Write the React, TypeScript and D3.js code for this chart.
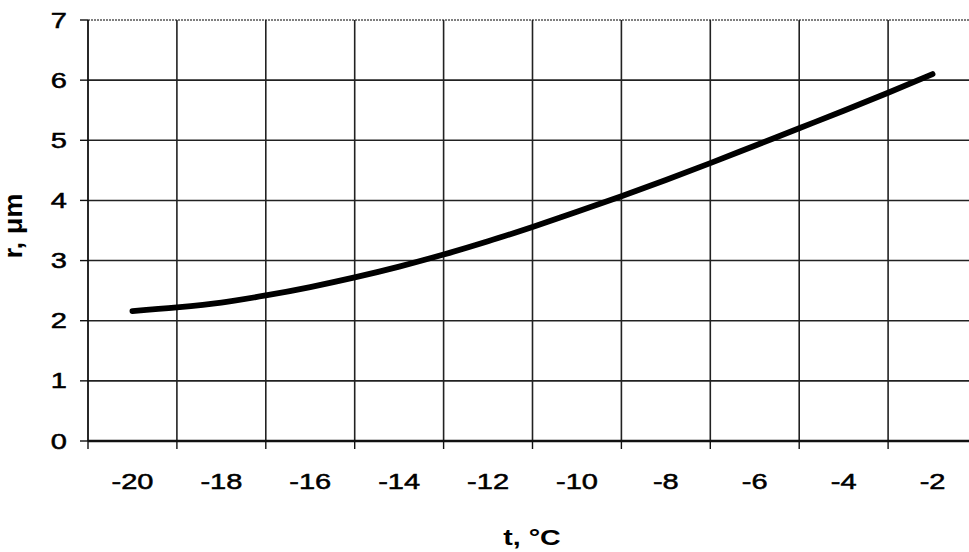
import React from "react";
import * as d3 from "d3";

const temps = [-20, -19, -18, -17, -16, -15, -14, -13, -12, -11, -10, -9, -8, -7, -6, -5, -4, -3, -2];
const radius = [2.16, 2.22, 2.3, 2.42, 2.56, 2.72, 2.9, 3.1, 3.32, 3.56, 3.81, 4.07, 4.34, 4.62, 4.91, 5.2, 5.49, 5.79, 6.1];
const xTickLabels = [-20, -18, -16, -14, -12, -10, -8, -6, -4, -2];
const yTicks = [0, 1, 2, 3, 4, 5, 6, 7];
const xGrid = [-21, -19, -17, -15, -13, -11, -9, -7, -5, -3, -1];

const W = 969;
const H = 552;
const left = 88;
const right = 977;
const top = 20;
const bottom = 441;
const SX = 1.35;

export default function App() {
  const x = d3.scaleLinear().domain([-21, -1]).range([left, right]);
  const y = d3.scaleLinear().domain([0, 7]).range([bottom, top]);
  const pts = temps.map((t, i) => [t, radius[i]] as [number, number]);
  const line = d3
    .line<[number, number]>()
    .x((d) => x(d[0]))
    .y((d) => y(d[1]))
    .curve(d3.curveMonotoneX);
  const font = "'Liberation Sans', Arial, sans-serif";
  return (
    <svg
      width={W}
      height={H}
      style={{ position: "absolute", left: 0, top: 0, background: "#fff" }}
      fontFamily={font}
    >
      <rect x={0} y={0} width={W} height={H} fill="#fff" />
      {yTicks.filter((v) => v > 0 && v < 7).map((v) => (
        <line key={"h" + v} x1={left} x2={right} y1={y(v)} y2={y(v)} stroke="#222" strokeWidth={1.6} />
      ))}
      <line x1={left} x2={right} y1={y(7)} y2={y(7)} stroke="#555" strokeWidth={1.6} strokeDasharray="2 1" />
      {xGrid.filter((v) => v > -21).map((v) => (
        <line key={"v" + v} x1={x(v)} x2={x(v)} y1={top} y2={bottom} stroke="#222" strokeWidth={1.6} />
      ))}
      <line x1={left} x2={left} y1={top} y2={bottom} stroke="#111" strokeWidth={1.8} />
      {yTicks.map((v) => (
        <g key={"yt" + v}>
          <line x1={left - 8} x2={left} y1={y(v)} y2={y(v)} stroke="#111" strokeWidth={1.4} />
          <text
            transform={`translate(67,${y(v) + 7.5}) scale(${SX},1)`}
            textAnchor="end"
            fontSize={21.5}
            fill="#000"
            stroke="#000"
            strokeWidth={0.5}
          >
            {v}
          </text>
        </g>
      ))}
      <line x1={left} x2={right} y1={bottom} y2={bottom} stroke="#111" strokeWidth={2.4} />
      {xGrid.map((v) => (
        <line key={"xt" + v} x1={x(v)} x2={x(v)} y1={bottom} y2={bottom + 8} stroke="#111" strokeWidth={1.4} />
      ))}
      {xTickLabels.map((v) => (
        <text
          key={"xl" + v}
          transform={`translate(${x(v)},489) scale(${SX},1)`}
          textAnchor="middle"
          fontSize={21.5}
          fill="#000"
          stroke="#000"
          strokeWidth={0.5}
        >
          {v}
        </text>
      ))}
      <path d={line(pts) || ""} fill="none" stroke="#000" strokeWidth={5.8} strokeLinecap="round" strokeLinejoin="round" />
      <text
        transform={`translate(532,545) scale(1.33,1)`}
        textAnchor="middle"
        fontSize={21.5}
        fontWeight="bold"
        fill="#000"
      >
        t, °C
      </text>
      <text
        transform={`translate(22,226) rotate(-90) scale(1.3,1.2)`}
        textAnchor="middle"
        fontSize={21}
        fontWeight="bold"
        fill="#000"
      >
        r, μm
      </text>
    </svg>
  );
}
